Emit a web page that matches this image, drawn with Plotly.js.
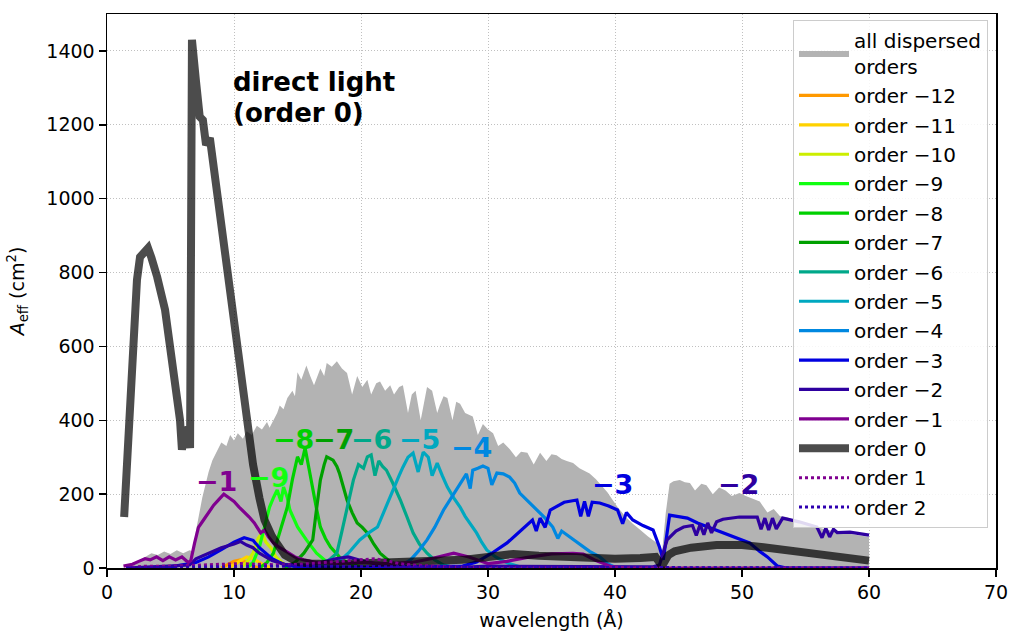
<!DOCTYPE html>
<html>
<head>
<meta charset="utf-8">
<script src="https://cdn.plot.ly/plotly-3.0.1.min.js"></script>
<style>html,body{margin:0;padding:0;background:#fff;}#chart{width:1012px;height:631px;}</style>
</head>
<body>
<div id="chart"></div>
<script>
// ---- data ----
const allX = [1.5,2,3,3.5,4,4.5,5,5.5,6,6.5,6.8,7.0,7.5,8.0,8.3,8.7,9.0,9.4,9.7,10.0,10.3,10.7,11.0,11.4,11.8,12.2,12.6,12.8,13.1,13.4,13.6,13.9,14.2,14.6,14.8,15.0,15.3,15.7,16.0,16.3,16.8,17.1,17.3,17.7,18.1,18.5,18.9,19.3,19.7,20.1,20.5,20.8,21.2,21.5,21.9,22.3,22.6,23.0,23.3,23.7,24.0,24.3,24.7,25.2,25.6,26.0,26.2,26.5,26.8,27.2,27.5,27.8,28.2,28.8,29.2,29.6,30.0,30.4,30.8,31.2,31.7,32.2,32.6,33.1,33.6,34.1,34.6,35.0,35.4,35.8,36.2,36.7,37.2,37.6,38.0,38.5,39.0,39.4,39.8,40.2,40.8,41.4,42.0,42.6,43.3,43.7,44.0,44.3,44.6,45.1,45.5,45.9,46.3,46.8,47.2,47.7,48.2,48.7,49.2,49.8,50.3,50.8,51.4,52.0,52.5,53.0,53.5,54.5,55.5,56.5,57.5,58.5,59.5,60.0,60.01];
const allY = [5,12,30,40,35,45,38,48,40,48,45,100,190,260,292,320,340,330,360,345,365,350,370,360,385,375,395,380,400,420,440,430,460,480,465,530,510,548,520,495,540,520,555,545,560,540,528,470,520,490,510,470,500,505,480,495,470,490,495,420,470,480,400,490,480,420,440,465,460,400,450,445,420,410,360,390,375,365,330,340,322,300,315,312,280,312,290,308,305,295,290,284,270,262,256,240,220,205,185,165,140,120,103,85,68,40,150,228,235,238,232,230,210,228,224,200,218,210,195,203,195,188,180,150,160,140,138,125,115,105,98,92,86,84,0];

const o0X = [1.35,1.97,2.36,2.6,3.0,3.23,3.5,3.78,3.95,4.57,4.96,5.4,5.75,5.9,6.14,6.4,6.54,6.62,6.69,7.0,7.3,7.55,7.8,8.1,8.5,9.0,9.5,10.0,10.5,11.0,11.5,12.0,12.4,13.0,13.5,14.0,15.0,16.0,18,20,22,24,26,28,30,32,34,36,38,40,42,43.2,43.7,44.2,44.7,46,48,50,52,54,56,58,60];
const o0Y = [138,560,780,842,860,866,840,815,788,699,609,500,400,320,379,370,325,900,1430,1320,1222,1213,1145,1164,1059,928,796,664,532,400,280,190,130,85,55,35,16,12,10,12,12,14,18,22,30,38,33,30,27,25,27,30,5,35,45,55,62,62,55,47,38,28,20];

const m1X = [1.3,2,2.5,3.0,3.4,3.9,4.4,4.9,5.4,5.9,6.4,6.6,6.9,7.2,7.6,8.0,8.4,8.8,9.2,9.6,10.0,10.4,10.8,11.2,11.6,12.1,12.4,12.7,13.1,13.6,14.2,14.8,15.5,16.5,18,20,22,24,25.5,27.3,28.5,30,31.5,33,35,36.7,37.5,38.5,39.8,41,60];
const m1Y = [5,10,18,25,22,30,20,30,22,30,15,20,68,110,130,150,170,185,200,190,180,165,152,138,122,95,103,85,68,55,43,30,22,15,12,15,12,15,25,40,30,12,18,28,38,40,38,20,3,0,0];

const m2X = [1.5,3,5,6.5,7,8,9,10,10.5,11,11.5,12,13,14,16,18,19,20,22,25,28,30,35,40,43,43.5,44.1,44.8,45.4,46.1,46.4,46.7,47.0,47.3,47.6,48.0,48.5,49.8,51.2,51.5,51.8,52.1,52.4,52.7,53.2,54.5,55.9,56.3,56.6,56.9,57.2,57.5,58.5,60];
const m2Y = [0,3,5,8,25,40,55,65,72,62,55,40,20,10,8,25,30,20,5,3,2,5,5,3,3,8,76,100,111,115,88,118,90,122,95,125,132,138,138,105,135,103,135,106,135,125,111,82,108,84,105,96,97,89];

const m3X = [1.5,5,7,8,9,10,10.8,11.5,12,12.5,13,14,15,20,28,29.1,30.3,31.5,32.5,33.5,33.8,34.1,34.5,34.9,36,37.0,37.3,37.6,37.9,38.2,38.8,39.5,40.2,40.6,40.9,41.4,42.2,43,43.5,43.8,44.3,45.7,46.5,48,49.3,50.6,51.4,52,52.8,53.5,60];
const m3Y = [0,3,15,30,50,70,82,75,55,40,25,8,3,2,5,16,40,68,100,130,100,135,110,157,178,184,140,180,140,178,176,168,157,120,150,130,115,103,57,22,143,135,122,103,85,68,45,30,5,0,0];

const m4X = [22,23.2,23.9,24.5,25.2,25.8,26.5,27.1,27.8,28.3,28.6,28.8,29.2,29.6,30.0,30.3,30.7,31.2,31.7,32.1,32.5,33.2,33.9,34.5,35.1,35.5,35.8,36.4,37,38,38.8,39.4,40,41];
const m4Y = [0,8,22,45,76,110,157,190,230,255,215,265,270,276,270,225,257,255,246,230,203,180,157,135,111,80,100,85,68,45,30,12,2,0];

const m5X = [17,18,19,19.9,20.6,21.3,21.9,22.5,23,23.3,23.7,24.1,24.5,24.9,25.3,25.6,26,26.4,26.8,27.3,27.8,28.2,28.6,29.1,29.5,29.9,30.6,31.5,32.5,33];
const m5Y = [0,10,40,76,95,111,160,211,250,273,300,311,260,314,300,250,284,250,219,190,165,140,120,95,70,49,30,14,3,0];

const m6X = [16,17,17.6,18.1,18.5,18.9,19.4,19.8,20.2,20.5,20.8,21.1,21.4,21.7,22,22.5,23.1,23.6,24.1,24.6,25.2,25.8,26.5,27.5];
const m6Y = [0,10,25,40,100,165,238,280,270,301,306,250,290,275,265,230,184,140,95,65,40,22,8,0];

const m7X = [14,14.8,15.5,16.2,16.5,16.8,17.1,17.3,17.8,18.1,18.3,18.6,18.9,19.3,19.7,20.1,20.5,21,21.5,22.2,23,24];
const m7Y = [0,15,40,76,160,238,280,301,292,275,257,220,184,150,122,110,95,65,40,20,5,0];

const m8X = [12,12.6,13.1,13.6,14.2,14.6,15,15.3,15.6,15.9,16.2,16.5,16.8,17.2,17.6,18.3,19,20,21];
const m8Y = [0,15,40,100,165,240,301,280,325,270,211,160,111,80,57,30,12,3,0];

const m9X = [11,11.5,12,12.4,12.8,13.1,13.4,13.7,13.9,14.2,14.4,15,15.7,16.5,17.2,18,19];
const m9Y = [0,15,57,110,165,190,211,180,219,190,157,111,76,40,20,5,0];

const m10X = [10.5,11,11.5,11.9,12.2,12.5,12.9,13.3,14,15];
const m10Y = [0,15,40,80,95,70,55,30,8,0];

const m11X = [9.5,10,10.5,11,11.5,12,12.5,13];
const m11Y = [0,8,20,30,25,15,5,0];

const m12X = [9,9.5,10,10.5,11,11.5,12];
const m12Y = [0,8,18,22,15,5,0];

const p1X = [1.5,3,5,7,9,10.5,12,14,16,18,20,21,22,23,24,26,28,30,60];
const p1Y = [0,5,5,8,10,12,10,8,12,18,22,25,20,12,8,4,2,0,0];

const p2X = [1.5,5,10,15,20,25,30,40,60];
const p2Y = [0,2,4,5,5,3,2,1,0];

const orderNames = ["order \u221212","order \u221211","order \u221210","order \u22129","order \u22128","order \u22127","order \u22126","order \u22125","order \u22124","order \u22123","order \u22122","order \u22121"];
const orderColors = ["#ff9900","#ffd200","#ccee00","#11ff11","#00d000","#00a000","#00a88a","#00a8c0","#0088e0","#0000e0","#2e00a0","#800090"];
const orderXs = [m12X,m11X,m10X,m9X,m8X,m7X,m6X,m5X,m4X,m3X,m2X,m1X];
const orderYs = [m12Y,m11Y,m10Y,m9Y,m8Y,m7Y,m6Y,m5Y,m4Y,m3Y,m2Y,m1Y];

const labelTexts = ["\u22121","\u22129","\u22128","\u22127","\u22126","\u22125","\u22124","\u22123","\u22122"];
const labelX = [8.66,12.7,14.7,17.8,20.8,24.6,28.7,39.8,49.7];
const labelY = [233,244,347,347,347,347,325,227,227];
const labelColors = ["#800090","#11ff11","#00d000","#00a000","#00a88a","#00a8c0","#0088e0","#0000e0","#2e00a0"];

// ---- traces ----
const traces = [];
traces.push({x: allX, y: allY, type: 'scatter', mode: 'lines', fill: 'tozeroy',
  fillcolor: '#b3b3b3', line: {width: 0, color: '#b3b3b3'}, name: 'all dispersed<br>orders', legendgroup: 'g0'});
for (let i = 0; i < orderNames.length; i++) {
  traces.push({x: orderXs[i], y: orderYs[i], type: 'scatter', mode: 'lines',
    line: {color: orderColors[i], width: 3.2}, name: orderNames[i], legendgroup: 'g' + (i + 1)});
}
traces.push({x: o0X, y: o0Y, type: 'scatter', mode: 'lines',
  line: {color: 'rgba(0,0,0,0.7)', width: 8}, name: 'order 0', legendgroup: 'g13'});
traces.push({x: p1X, y: p1Y, type: 'scatter', mode: 'lines',
  line: {color: '#800090', width: 3, dash: 'dot'}, name: 'order 1', legendgroup: 'g14'});
traces.push({x: p2X, y: p2Y, type: 'scatter', mode: 'lines',
  line: {color: '#2e00b0', width: 3, dash: 'dot'}, name: 'order 2', legendgroup: 'g15'});

const annotations = [];
for (let i = 0; i < labelTexts.length; i++) {
  annotations.push({x: labelX[i], y: labelY[i], xref: 'x', yref: 'y', text: '<b>' + labelTexts[i] + '</b>',
    showarrow: false, font: {size: 27, color: labelColors[i], family: 'DejaVu Sans'}});
}
annotations.push({x: 9.76, y: 1316, xref: 'x', yref: 'y', xanchor: 'left', text: '<b>direct light</b>',
  showarrow: false, font: {size: 26, color: '#000', family: 'DejaVu Sans'}});
annotations.push({x: 9.76, y: 1232, xref: 'x', yref: 'y', xanchor: 'left', text: '<b>(order 0)</b>',
  showarrow: false, font: {size: 26, color: '#000', family: 'DejaVu Sans'}});

const axisCommon = {showline: true, linecolor: '#000', linewidth: 1.5, mirror: true,
  ticks: 'outside', ticklen: 7, tickwidth: 1.5, tickcolor: '#000',
  showgrid: true, gridcolor: '#c0c0c0', griddash: '1px,2px', gridwidth: 1, zeroline: false};

const layout = {
  width: 1012, height: 631,
  margin: {l: 107, r: 16, t: 14, b: 63},
  paper_bgcolor: '#fff', plot_bgcolor: '#fff',
  font: {family: 'DejaVu Sans', size: 19, color: '#000'},
  xaxis: Object.assign({}, axisCommon, {range: [0, 70], dtick: 10, tick0: 0,
    title: {text: 'wavelength (\u00c5)', standoff: 12, font: {size: 19}}}),
  yaxis: Object.assign({}, axisCommon, {range: [0, 1500], dtick: 200, tick0: 0,
    title: {text: '<i>A</i><sub>eff</sub> (cm<sup>2</sup>)', standoff: 16, font: {size: 19}}}),
  showlegend: true,
  legend: {x: 0.991, xanchor: 'right', y: 0.99, yanchor: 'top',
    bgcolor: 'rgba(255,255,255,0.85)', bordercolor: '#cccccc', borderwidth: 1,
    font: {size: 20}, tracegroupgap: 0.4, itemwidth: 50},
  annotations: annotations,
  hovermode: false
};

Plotly.newPlot('chart', traces, layout, {staticPlot: true, displayModeBar: false});
</script>
</body>
</html>
